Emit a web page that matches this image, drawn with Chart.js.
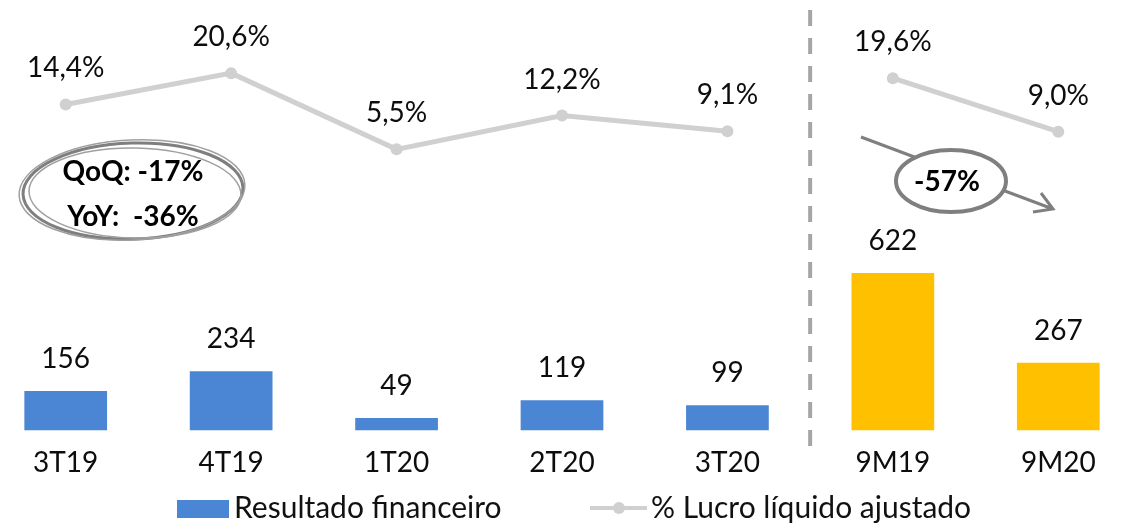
<!DOCTYPE html>
<html>
<head>
<meta charset="utf-8">
<script src="https://cdn.jsdelivr.net/npm/chart.js@4/dist/chart.umd.min.js"></script>
<style>
  html, body { margin: 0; padding: 0; background: #fff; overflow: hidden; }
  #wrap { position: relative; width: 1125px; height: 524px; overflow: hidden; }
  /* plot area starts a little left of the window, like the original crop */
  #myChart { position: absolute; left: -17px; top: 0; }
</style>
</head>
<body>
<div id="wrap"><canvas id="myChart" width="1158" height="524"></canvas></div>
<script>
// ---------------------------------
// data
// ---------------------------------
const periods = ["3T19", "4T19", "1T20", "2T20", "3T20", "9M19", "9M20"];
const resultado = [156, 234, 49, 119, 99, 622, 267];       // Resultado financeiro
const lucroPct = [14.4, 20.6, 5.5, 12.2, 9.1, 19.6, 9.0];  // % Lucro liquido ajustado
const barColors = ["#4A86D3", "#4A86D3", "#4A86D3", "#4A86D3", "#4A86D3", "#FFC000", "#FFC000"];
const notes = ["QoQ: -17%", "YoY:  -36%", "-57%"];

const FONT = "Lato, 'Open Sans', sans-serif";
const LINE_GREY = "#D0D0D0";
const OFF = 17; // canvas is shifted left by this much

function fmt(v) {
  return v.toFixed(1).replace(".", ",") + "%";
}

//---------------------------------------------------------
// labels, separator, notes and legend drawn on top
//---------------------------------------------------------
const extras = {
  id: "extras",
  beforeDatasetsDraw(chart) {
    const ctx = chart.ctx;
    const x = chart.scales.x;
    // dashed separator between quarters and 9 months
    const sx = (x.getPixelForValue(4) + x.getPixelForValue(5)) / 2;
    ctx.save();
    ctx.strokeStyle = "#A6A6A6";
    ctx.lineWidth = 4;
    ctx.setLineDash([16, 12]);
    ctx.beginPath();
    ctx.moveTo(sx, 10);
    ctx.lineTo(sx, 446);
    ctx.stroke();
    ctx.restore();
  },
  afterDatasetsDraw(chart) {
    const ctx = chart.ctx;
    ctx.save();
    ctx.fillStyle = "#0d0d0d";
    ctx.font = "28px " + FONT;
    ctx.textAlign = "center";
    ctx.textBaseline = "middle";

    // bar values
    chart.getDatasetMeta(0).data.forEach(function (bar, i) {
      ctx.fillText(resultado[i], bar.x, bar.y - 32);
    });
    // line values
    chart.getDatasetMeta(1).data.forEach(function (pt, i) {
      ctx.fillText(fmt(lucroPct[i]), pt.x, pt.y - 36);
    });

    // QoQ / YoY ellipse
    const cx1 = 133 + OFF, cy1 = 191;
    ctx.lineWidth = 3;
    ctx.strokeStyle = "#7F7F7F";
    ctx.beginPath();
    ctx.ellipse(cx1, cy1, 110, 48, -0.03, 0, Math.PI * 2);
    ctx.stroke();
    ctx.lineWidth = 1.5;
    ctx.strokeStyle = "#A0A0A0";
    ctx.beginPath();
    ctx.ellipse(cx1 + 2, cy1 + 2, 106, 45, 0.02, 0, Math.PI * 2);
    ctx.stroke();
    ctx.beginPath();
    ctx.ellipse(cx1 - 1, cy1 - 1, 113, 50, -0.05, 0, Math.PI * 2);
    ctx.stroke();
    ctx.fillStyle = "#000";
    ctx.font = "bold 28px " + FONT;
    ctx.fillText(notes[0], cx1, 172);
    ctx.fillText(notes[1], cx1, 217);

    // -57% arrow + ellipse
    ctx.strokeStyle = "#7F7F7F";
    ctx.lineWidth = 3;
    const ax0 = 861 + OFF, ay0 = 137, ax1 = 1053 + OFF, ay1 = 209;
    ctx.beginPath();
    ctx.moveTo(ax0, ay0);
    ctx.lineTo(ax1, ay1);
    ctx.moveTo(1041 + OFF, 193);
    ctx.lineTo(ax1, ay1);
    ctx.lineTo(1033 + OFF, 212);
    ctx.stroke();
    const cx2 = 951 + OFF, cy2 = 181;
    ctx.fillStyle = "#fff";
    ctx.lineWidth = 4;
    ctx.beginPath();
    ctx.ellipse(cx2, cy2, 55, 31, 0, 0, Math.PI * 2);
    ctx.fill();
    ctx.stroke();
    ctx.fillStyle = "#000";
    ctx.font = "bold 28px " + FONT;
    ctx.fillText(notes[2], cx2 - 4, cy2 + 1);

    // legend
    const ly = 508;
    ctx.font = "30px " + FONT;
    ctx.textAlign = "left";
    ctx.fillStyle = barColors[0];
    ctx.fillRect(177 + OFF, 500, 52, 18);
    ctx.fillStyle = "#111";
    ctx.fillText(chart.data.datasets[0].label, 234 + OFF, ly);
    ctx.strokeStyle = LINE_GREY;
    ctx.lineWidth = 4;
    ctx.beginPath();
    ctx.moveTo(590 + OFF, ly);
    ctx.lineTo(647 + OFF, ly);
    ctx.stroke();
    ctx.fillStyle = LINE_GREY;
    ctx.beginPath();
    ctx.arc(619 + OFF, ly, 6, 0, Math.PI * 2);
    ctx.fill();
    ctx.fillStyle = "#111";
    ctx.fillText(chart.data.datasets[1].label, 651 + OFF, ly);
    ctx.restore();
  }
};

const data = {
  labels: periods,
  datasets: [
    {
      type: "bar",
      label: "Resultado financeiro",
      data: resultado,
      backgroundColor: barColors,
      yAxisID: "y",
      categoryPercentage: 1,
      barPercentage: 0.5,
      order: 2
    },
    {
      type: "line",
      label: "% Lucro líquido ajustado",
      data: lucroPct,
      yAxisID: "y1",
      borderColor: LINE_GREY,
      backgroundColor: LINE_GREY,
      borderWidth: 5,
      pointRadius: 6,
      pointBorderWidth: 0,
      tension: 0,
      order: 1,
      segment: {
        // no link between 3T20 and 9M19
        borderColor: function (c) { return c.p0DataIndex === 4 ? "rgba(0,0,0,0)" : undefined; }
      }
    }
  ]
};

const config = {
  data: data,
  options: {
    responsive: false,
    animation: false,
    layout: { padding: { left: 0, right: 0, top: 0, bottom: 28 }, autoPadding: false },
    plugins: {
      legend: { display: false },
      tooltip: { enabled: false }
    },
    scales: {
      x: {
        grid: { display: false, drawTicks: false },
        border: { display: false },
        ticks: { color: "#0d0d0d", font: { family: FONT, size: 28 }, padding: 16 }
      },
      y: { display: false, min: 0, max: 1700 },
      y1: { display: false, min: -50.2, max: 35.1 }
    }
  },
  plugins: [extras]
};

const myChart = new Chart(document.getElementById("myChart"), config);
</script>
</body>
</html>
